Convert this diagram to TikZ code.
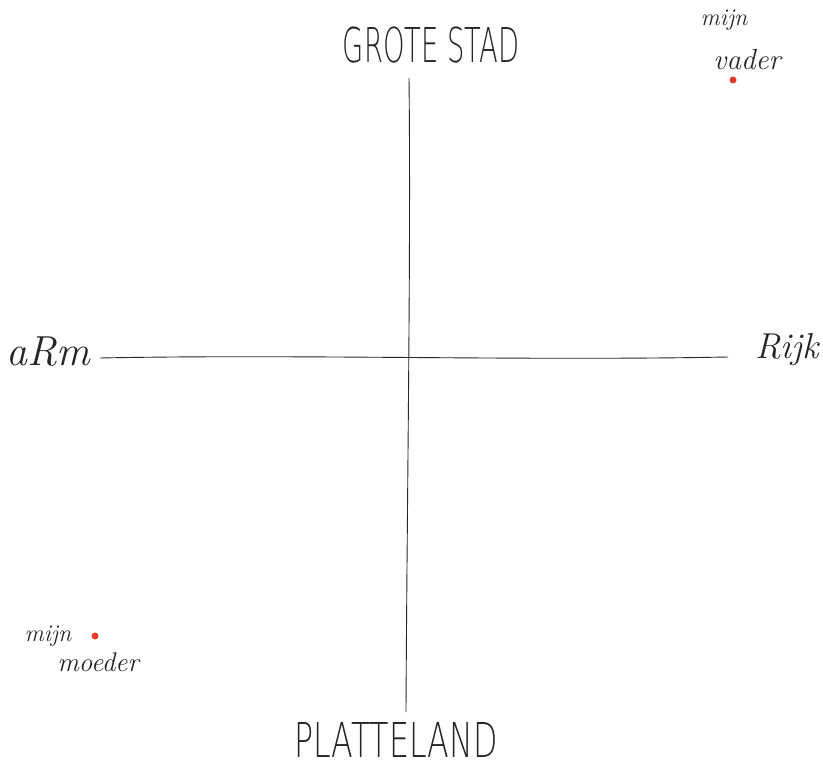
\documentclass[tikz,border=0pt]{standalone}
\usepackage{fontspec}
\newfontfamily\capsfont{DejaVu Sans}[UprightFont={* ExtraLight}]
\tikzset{
  axis/.style={line width=0.9pt, black!85},
  capslabel/.style={inner sep=0pt, font=\capsfont\fontsize{48}{48}\selectfont, text=black!85},
  hand/.style={inner sep=0pt, text=black!85},
  dot/.style={circle, fill={rgb,255:red,232;green,62;blue,40}, inner sep=0pt, minimum size=7pt}
}
\begin{document}
\begin{tikzpicture}[x=1pt,y=-1pt]
\useasboundingbox (0,0) rectangle (823,768);
% axes
\coordinate (top) at (409,78);
\coordinate (bottom) at (406,712);
\coordinate (left) at (100,358);
\coordinate (right) at (728,357);
\draw[axis] (top) .. controls (411,250) and (407,500) .. (bottom);
\draw[axis] (left) .. controls (300,354) and (520,361) .. (right);
% labels
\node[capslabel, xscale=0.57] (grote) at (431,45) {GROTE STAD};
\node[capslabel, xscale=0.66] (platte) at (396,740) {PLATTELAND};
\node[hand, font=\itshape\fontsize{42}{42}\selectfont] (arm) at (48,352) {aRm};
\node[hand, font=\itshape\fontsize{36}{36}\selectfont] (rijk) at (787,350) {Rijk};
% top right
\node[hand, font=\itshape\fontsize{24}{24}\selectfont] (mijn1) at (724,20) {mijn};
\node[hand, font=\itshape\fontsize{29}{29}\selectfont] (vader) at (747,60) {vader};
\node[dot] (vdot) at (733,80) {};
% bottom left
\node[hand, font=\itshape\fontsize{24}{24}\selectfont] (mijn2) at (48,636) {mijn};
\node[dot] (mdot) at (95,636) {};
\node[hand, font=\itshape\fontsize{27}{27}\selectfont] (moeder) at (98,662) {moeder};
\end{tikzpicture}
\end{document}
